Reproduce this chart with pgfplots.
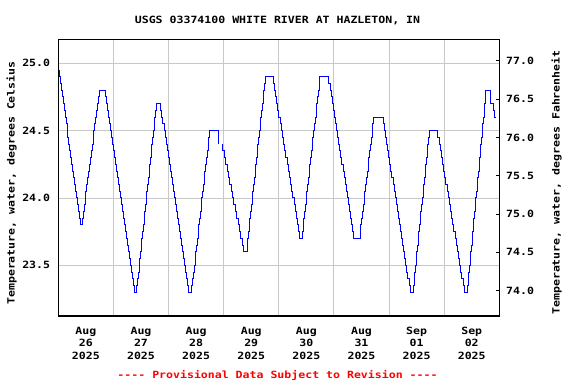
\documentclass[border=0pt]{standalone}
\usepackage{pgfplots}
\pgfplotsset{compat=1.18}
\usepackage{fontspec}
\newfontfamily\cf[FakeStretch=1.16]{DejaVu Sans Mono}
\definecolor{gridgray}{RGB}{200,200,200}
\definecolor{lineblue}{RGB}{0,0,255}
\definecolor{provred}{RGB}{255,0,0}
\newcommand{\chf}{\cf\bfseries\fontsize{10}{12.7}\selectfont}
\pgfplotstableread{
t v
0.010 24.95
0.020 24.90
0.037 24.85
0.055 24.80
0.072 24.75
0.089 24.70
0.106 24.65
0.124 24.60
0.141 24.55
0.158 24.50
0.175 24.45
0.193 24.40
0.210 24.35
0.227 24.30
0.245 24.25
0.262 24.20
0.279 24.15
0.296 24.10
0.314 24.05
0.331 24.00
0.348 23.95
0.365 23.90
0.383 23.85
0.400 23.80
0.436 23.85
0.452 23.90
0.469 23.95
0.485 24.00
0.501 24.05
0.517 24.10
0.534 24.15
0.550 24.20
0.566 24.25
0.582 24.30
0.599 24.35
0.615 24.40
0.631 24.45
0.647 24.50
0.664 24.55
0.680 24.60
0.696 24.65
0.712 24.70
0.729 24.75
0.745 24.80
0.862 24.75
0.880 24.70
0.898 24.65
0.916 24.60
0.934 24.55
0.952 24.50
0.970 24.45
0.988 24.40
1.005 24.35
1.023 24.30
1.041 24.25
1.059 24.20
1.077 24.15
1.095 24.10
1.113 24.05
1.131 24.00
1.149 23.95
1.167 23.90
1.185 23.85
1.203 23.80
1.221 23.75
1.239 23.70
1.256 23.65
1.274 23.60
1.292 23.55
1.310 23.50
1.328 23.45
1.346 23.40
1.364 23.35
1.382 23.30
1.425 23.35
1.438 23.40
1.451 23.45
1.464 23.50
1.477 23.55
1.490 23.60
1.503 23.65
1.516 23.70
1.529 23.75
1.542 23.80
1.555 23.85
1.568 23.90
1.581 23.95
1.594 24.00
1.607 24.05
1.620 24.10
1.633 24.15
1.646 24.20
1.659 24.25
1.672 24.30
1.685 24.35
1.698 24.40
1.711 24.45
1.724 24.50
1.737 24.55
1.750 24.60
1.763 24.65
1.776 24.70
1.862 24.65
1.881 24.60
1.899 24.55
1.918 24.50
1.936 24.45
1.955 24.40
1.974 24.35
1.992 24.30
2.011 24.25
2.029 24.20
2.048 24.15
2.067 24.10
2.085 24.05
2.104 24.00
2.122 23.95
2.141 23.90
2.159 23.85
2.178 23.80
2.197 23.75
2.215 23.70
2.234 23.65
2.252 23.60
2.271 23.55
2.290 23.50
2.308 23.45
2.327 23.40
2.345 23.35
2.364 23.30
2.425 23.35
2.439 23.40
2.453 23.45
2.467 23.50
2.481 23.55
2.495 23.60
2.508 23.65
2.522 23.70
2.536 23.75
2.550 23.80
2.564 23.85
2.578 23.90
2.592 23.95
2.606 24.00
2.620 24.05
2.634 24.10
2.648 24.15
2.661 24.20
2.675 24.25
2.689 24.30
2.703 24.35
2.717 24.40
2.731 24.45
2.745 24.50
2.909 24.40
2.940 nan
2.970 24.40
2.985 24.35
3.010 24.30
3.036 24.25
3.061 24.20
3.086 24.15
3.111 24.10
3.137 24.05
3.162 24.00
3.187 23.95
3.212 23.90
3.238 23.85
3.263 23.80
3.288 23.75
3.313 23.70
3.339 23.65
3.364 23.60
3.425 23.65
3.438 23.70
3.451 23.75
3.464 23.80
3.477 23.85
3.491 23.90
3.504 23.95
3.517 24.00
3.530 24.05
3.543 24.10
3.556 24.15
3.569 24.20
3.582 24.25
3.596 24.30
3.609 24.35
3.622 24.40
3.635 24.45
3.648 24.50
3.661 24.55
3.674 24.60
3.687 24.65
3.701 24.70
3.714 24.75
3.727 24.80
3.740 24.85
3.753 24.90
3.898 24.85
3.919 24.80
3.940 24.75
3.961 24.70
3.982 24.65
4.003 24.60
4.024 24.55
4.045 24.50
4.066 24.45
4.087 24.40
4.108 24.35
4.129 24.30
4.150 24.25
4.172 24.20
4.193 24.15
4.214 24.10
4.235 24.05
4.256 24.00
4.277 23.95
4.298 23.90
4.319 23.85
4.340 23.80
4.361 23.75
4.382 23.70
4.425 23.75
4.439 23.80
4.453 23.85
4.467 23.90
4.481 23.95
4.495 24.00
4.508 24.05
4.522 24.10
4.536 24.15
4.550 24.20
4.564 24.25
4.578 24.30
4.592 24.35
4.606 24.40
4.620 24.45
4.634 24.50
4.648 24.55
4.661 24.60
4.675 24.65
4.689 24.70
4.703 24.75
4.717 24.80
4.731 24.85
4.745 24.90
4.909 24.85
4.929 24.80
4.949 24.75
4.968 24.70
4.988 24.65
5.008 24.60
5.028 24.55
5.047 24.50
5.067 24.45
5.087 24.40
5.107 24.35
5.127 24.30
5.146 24.25
5.166 24.20
5.186 24.15
5.206 24.10
5.225 24.05
5.245 24.00
5.265 23.95
5.285 23.90
5.305 23.85
5.324 23.80
5.344 23.75
5.364 23.70
5.473 23.75
5.488 23.80
5.502 23.85
5.517 23.90
5.532 23.95
5.546 24.00
5.561 24.05
5.576 24.10
5.590 24.15
5.605 24.20
5.620 24.25
5.634 24.30
5.649 24.35
5.663 24.40
5.678 24.45
5.693 24.50
5.707 24.55
5.722 24.60
5.898 24.55
5.917 24.50
5.937 24.45
5.956 24.40
5.975 24.35
5.995 24.30
6.014 24.25
6.034 24.20
6.053 24.15
6.072 24.10
6.092 24.05
6.111 24.00
6.130 23.95
6.150 23.90
6.169 23.85
6.188 23.80
6.208 23.75
6.227 23.70
6.246 23.65
6.266 23.60
6.285 23.55
6.304 23.50
6.324 23.45
6.343 23.40
6.363 23.35
6.382 23.30
6.444 23.35
6.456 23.40
6.469 23.45
6.481 23.50
6.493 23.55
6.506 23.60
6.518 23.65
6.530 23.70
6.542 23.75
6.555 23.80
6.567 23.85
6.579 23.90
6.592 23.95
6.604 24.00
6.616 24.05
6.629 24.10
6.641 24.15
6.653 24.20
6.665 24.25
6.678 24.30
6.690 24.35
6.702 24.40
6.715 24.45
6.727 24.50
6.885 24.45
6.906 24.40
6.927 24.35
6.947 24.30
6.968 24.25
6.989 24.20
7.010 24.15
7.031 24.10
7.052 24.05
7.072 24.00
7.093 23.95
7.114 23.90
7.135 23.85
7.156 23.80
7.177 23.75
7.197 23.70
7.218 23.65
7.239 23.60
7.260 23.55
7.281 23.50
7.302 23.45
7.322 23.40
7.343 23.35
7.364 23.30
7.425 23.35
7.436 23.40
7.448 23.45
7.459 23.50
7.471 23.55
7.482 23.60
7.494 23.65
7.505 23.70
7.517 23.75
7.528 23.80
7.540 23.85
7.551 23.90
7.563 23.95
7.574 24.00
7.586 24.05
7.597 24.10
7.609 24.15
7.620 24.20
7.632 24.25
7.643 24.30
7.655 24.35
7.666 24.40
7.678 24.45
7.689 24.50
7.701 24.55
7.712 24.60
7.724 24.65
7.735 24.70
7.747 24.75
7.758 24.80
7.836 24.70
7.898 24.65
7.915 24.60
7.927 24.60
}\temps
\begin{document}
\begin{tikzpicture}[x=1bp,y=1bp]
\path[use as bounding box] (0,0) rectangle (576,384);
\begin{axis}[
  at={(58.3bp,68bp)}, anchor=south west,
  scale only axis, width=441bp, height=276.7bp,
  xmin=0, xmax=8, ymin=23.1235, ymax=25.178,
  xtick={0.5,1.5,2.5,3.5,4.5,5.5,6.5,7.5},
  xticklabels={{Aug\\26\\2025},{Aug\\27\\2025},{Aug\\28\\2025},{Aug\\29\\2025},{Aug\\30\\2025},{Aug\\31\\2025},{Sep\\01\\2025},{Sep\\02\\2025}},
  minor xtick={1,2,3,4,5,6,7},
  xminorgrids=true, xmajorgrids=false,
  ytick={23.5,24,24.5,25},
  yticklabels={23.5,24.0,24.5,25.0},
  ymajorgrids=true,
  major tick length=0pt, minor tick length=0pt,
  grid style={draw=gridgray, line width=0.9bp},
  minor grid style={draw=gridgray, line width=0.9bp},
  axis line style={line width=1.3bp, black},
  ticklabel style={font=\chf},
  xticklabel style={align=center, inner sep=0pt, anchor=north, yshift=-10.7bp},
  yticklabel style={inner sep=0pt, anchor=east, xshift=-8bp},
  ytick pos=left, xtick pos=bottom,
  unbounded coords=jump,
]
\addplot[const plot, mark=none, color=lineblue, line width=1bp] table[x=t,y=v] {\temps};
\end{axis}
\begin{axis}[
  at={(58.3bp,68bp)}, anchor=south west,
  scale only axis, width=441bp, height=276.7bp,
  xmin=0, xmax=8, ymin=73.670, ymax=77.283,
  axis x line=none, axis y line*=right,
  ytick={74,74.5,75,75.5,76,76.5,77},
  yticklabels={74.0,74.5,75.0,75.5,76.0,76.5,77.0},
  tick align=inside, major tick length=3.5bp,
  ytick style={line width=1bp, black},
  axis line style={line width=1.3bp, black},
  ticklabel style={font=\chf},
  yticklabel style={inner sep=0pt, anchor=west, xshift=6.7bp},
]
\end{axis}
\node[font=\chf, anchor=base] at (277.5,360.4) {USGS 03374100 WHITE RIVER AT HAZLETON, IN};
\node[font=\chf, anchor=base, rotate=90] at (14.5,201) {Temperature, water, degrees Celsius};
\node[font=\chf, anchor=base, rotate=90] at (559.5,201.5) {Temperature, water, degrees Fahrenheit};
\node[font=\chf, anchor=base, text=provred] at (277.5,5.5) {---- Provisional Data Subject to Revision ----};
\end{tikzpicture}
\end{document}
